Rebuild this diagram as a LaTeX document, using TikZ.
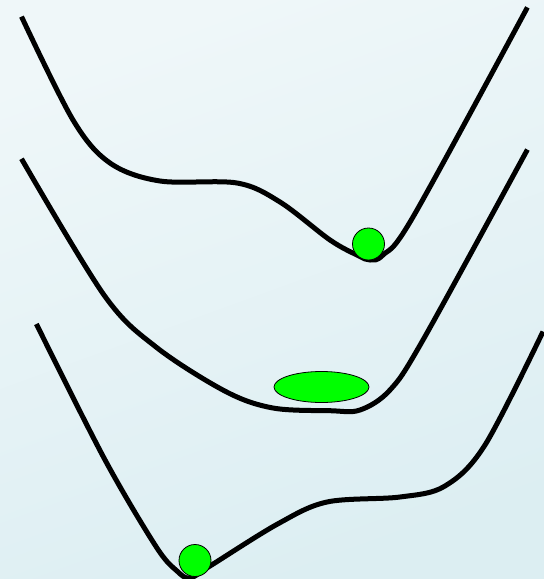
\documentclass[tikz,border=0pt]{standalone}
\usetikzlibrary{shapes.geometric}
\definecolor{bgtop}{RGB}{239,247,249}
\definecolor{bgbot}{RGB}{220,238,242}
\definecolor{ballgreen}{RGB}{0,255,0}
\tikzset{
  landscape/.style={line width=5pt, black, line join=round},
  ball/.style={circle, draw=black, line width=0.8pt, fill=ballgreen, minimum size=32pt, inner sep=0pt},
  blob/.style={ellipse, draw=black, line width=0.8pt, fill=ballgreen, minimum width=95pt, minimum height=31pt, inner sep=0pt}
}
\begin{document}
\begin{tikzpicture}[x=1pt,y=-1pt]
\useasboundingbox (0,0) rectangle (544,579);
\shade[top color=bgtop, bottom color=bgbot, shading angle=20] (0,0) rectangle (544,579);
% top landscape
\draw[landscape] plot[smooth, tension=0.55] coordinates {
 (21.5,16.6) (73,120) (110,163) (160,181) (237,183)
 (280,202) (330,240) (358,255.5) (370,260)
 (383,255) (413,217) (527.4,7.4)};
% middle landscape
\draw[landscape] plot[smooth, tension=0.55] coordinates {
 (21.5,158.8) (104,295) (156,347) (225.5,391.4) (273,408)
 (330,410.7) (360,410) (390,390) (423,340) (527.4,149.6)};
% bottom landscape
\draw[landscape] plot[smooth, tension=0.55] coordinates {
 (36.4,324) (104,458) (156,546.5) (177,571) (190,578) (210,566)
 (277.6,524) (327,502) (400,497) (445,486)
 (485,445) (543,331.6)};
\node[ball] (ball1) at (368.5,244) {};
\node[blob] (ball2) at (321.5,387) {};
\node[ball] (ball3) at (195,560.5) {};
\end{tikzpicture}
\end{document}
